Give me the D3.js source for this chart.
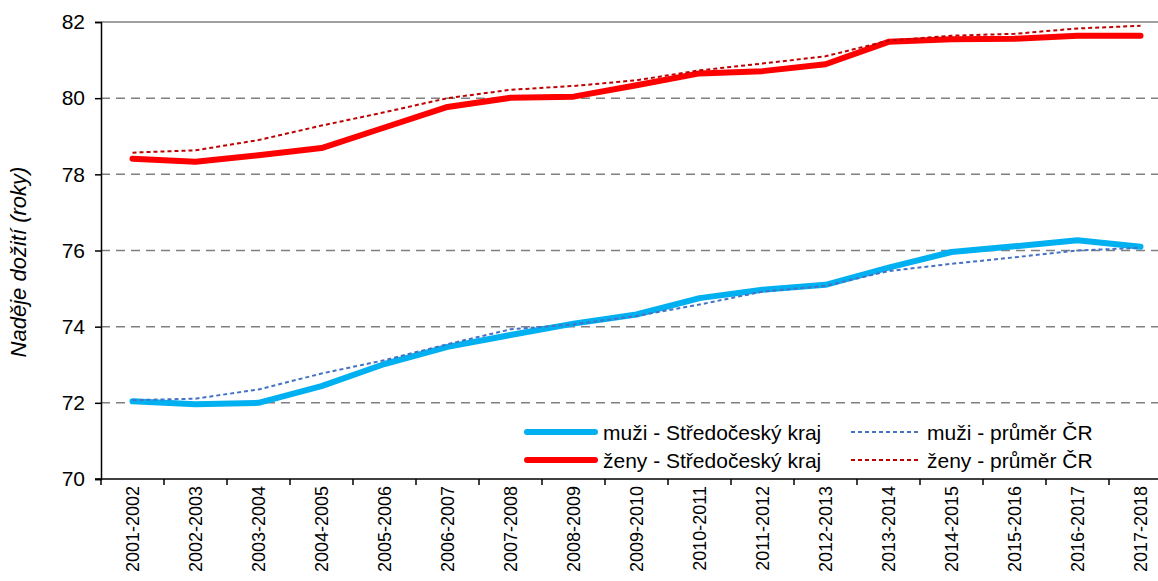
<!DOCTYPE html>
<html>
<head>
<meta charset="utf-8">
<script src="https://cdn.jsdelivr.net/npm/d3@7"></script>
<style>
  body { margin: 0; background: #fff; }
  svg { display: block; font-family: "Liberation Sans", Arial, sans-serif; }
</style>
</head>
<body>
<div id="chart"></div>
<script>
// categories (periods)
const periods = ["2001-2002", "2002-2003", "2003-2004", "2004-2005", "2005-2006", "2006-2007",
  "2007-2008", "2008-2009", "2009-2010", "2010-2011", "2011-2012", "2012-2013",
  "2013-2014", "2014-2015", "2015-2016", "2016-2017", "2017-2018"];

// values
const muziKraj = [72.04, 71.96, 72.00, 72.44, 73.02, 73.47, 73.78, 74.08, 74.32, 74.75, 74.97, 75.10,
  75.55, 75.96, 76.11, 76.27, 76.10];
const zenyKraj = [78.41, 78.33, 78.50, 78.69, 79.23, 79.77, 80.01, 80.04, 80.34, 80.65, 80.71, 80.89,
  81.48, 81.55, 81.56, 81.64, 81.64];
const muziCR = [72.07, 72.11, 72.35, 72.77, 73.12, 73.54, 73.93, 74.06, 74.28, 74.58, 74.92, 75.07,
  75.46, 75.65, 75.82, 76.00, 76.07];
const zenyCR = [78.57, 78.63, 78.90, 79.28, 79.63, 80.00, 80.22, 80.32, 80.47, 80.73, 80.91, 81.10,
  81.51, 81.64, 81.69, 81.83, 81.90];

const yTicks = [70, 72, 74, 76, 78, 80, 82];

const series = [
  { name: "muži - Středočeský kraj", values: muziKraj, color: "#00B0F0", width: 6, dash: null },
  { name: "ženy - Středočeský kraj", values: zenyKraj, color: "#FF0000", width: 6, dash: null },
  { name: "muži - průměr ČR", values: muziCR, color: "#4472C4", width: 2, dash: "4,3" },
  { name: "ženy - průměr ČR", values: zenyCR, color: "#C00000", width: 2, dash: "4,3" }
];

const svgWidth = 1158, svgHeight = 581;
const plotLeft = 101, plotTop = 22, plotBottom = 479;
const band = 63;
const fontFamily = "'Liberation Sans', Arial, sans-serif";

const svg = d3.select("#chart").append("svg")
  .attr("width", svgWidth)
  .attr("height", svgHeight);

let x = d3.scaleBand()
  .domain(periods)
  .range([plotLeft, plotLeft + band * periods.length]);

let y = d3.scaleLinear()
  .domain([70, 82])
  .range([plotBottom, plotTop]);

// gridlines
svg.append("g")
  .selectAll("line")
  .data(yTicks.filter(d => d > 70))
  .enter()
  .append("line")
  .attr("x1", plotLeft)
  .attr("x2", svgWidth)
  .attr("y1", d => y(d))
  .attr("y2", d => y(d))
  .style("stroke", "#808080")
  .style("stroke-width", 1.5)
  .style("stroke-dasharray", d => d === 82 ? null : "9,6");

// y axis
let yAxis = svg.append("g")
  .attr("transform", `translate(${plotLeft},0)`)
  .call(d3.axisLeft(y).tickValues(yTicks).tickSize(6).tickPadding(10));
yAxis.attr("font-family", fontFamily).attr("font-size", 21);
yAxis.select(".domain").attr("stroke", "#000").attr("stroke-width", 1.5);
yAxis.selectAll(".tick line").attr("stroke", "#000").attr("stroke-width", 1.5);
yAxis.selectAll(".tick text").attr("fill", "#000");

// x axis: line and boundary ticks
svg.append("line")
  .attr("x1", plotLeft - 6).attr("x2", svgWidth)
  .attr("y1", plotBottom).attr("y2", plotBottom)
  .style("stroke", "#000")
  .style("stroke-width", 1.5);

svg.append("g")
  .selectAll("line")
  .data(periods)
  .enter()
  .append("line")
  .attr("x1", d => x(d))
  .attr("x2", d => x(d))
  .attr("y1", plotBottom)
  .attr("y2", plotBottom + 6)
  .style("stroke", "#000")
  .style("stroke-width", 1.5);

svg.append("g")
  .selectAll("text")
  .data(periods)
  .enter()
  .append("text")
  .attr("transform", d => `translate(${x(d) + x.bandwidth() / 2 + 6},${plotBottom + 7}) rotate(-90)`)
  .attr("text-anchor", "end")
  .style("font-size", "18px")
  .text(d => d);

// y axis title
svg.append("text")
  .attr("transform", `translate(26,262) rotate(-90)`)
  .attr("text-anchor", "middle")
  .style("font-size", "22px")
  .style("font-style", "italic")
  .text("Naděje dožití (roky)");

// lines
let line = d3.line()
  .x((d, i) => x(periods[i]) + x.bandwidth() / 2)
  .y(d => y(d));

svg.append("g")
  .selectAll("path")
  .data(series)
  .enter()
  .append("path")
  .attr("d", d => line(d.values))
  .style("fill", "none")
  .style("stroke", d => d.color)
  .style("stroke-width", d => d.width)
  .style("stroke-linecap", d => d.dash ? "butt" : "round")
  .style("stroke-linejoin", "round")
  .style("stroke-dasharray", d => d.dash);

// legend
const legendPos = [[527, 432], [527, 460], [851, 432], [851, 460]];
let legend = svg.append("g")
  .selectAll("g")
  .data(series)
  .enter()
  .append("g")
  .attr("transform", (d, i) => `translate(${legendPos[i][0]},${legendPos[i][1]})`);

legend.append("line")
  .attr("x1", 0).attr("x2", 68)
  .style("stroke", d => d.color)
  .style("stroke-width", d => d.width)
  .style("stroke-linecap", d => d.dash ? "butt" : "round")
  .style("stroke-dasharray", d => d.dash);

legend.append("text")
  .attr("x", 76)
  .attr("y", 7.5)
  .style("font-size", "21px")
  .text(d => d.name);
</script>
</body>
</html>
